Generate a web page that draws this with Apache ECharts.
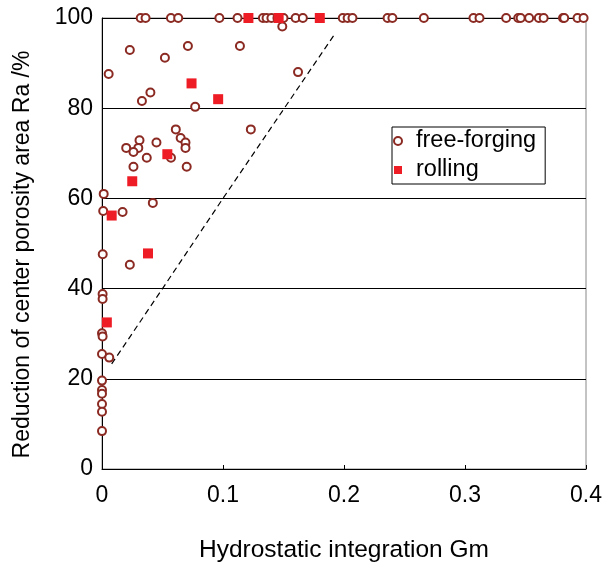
<!DOCTYPE html>
<html><head><meta charset="utf-8">
<script src="https://cdn.jsdelivr.net/npm/echarts@6/dist/echarts.min.js"></script>
<style>html,body{margin:0;padding:0;background:#fff}#c{width:603px;height:564px}</style>
</head><body><div id="c"></div>
<script>
const xTicks = [0, 0.1, 0.2, 0.3, 0.4];
const yTicks = [0, 20, 40, 60, 80, 100];
const freeForgingTop = [0.032,0.036,0.057,0.063,0.097,0.112,0.133,0.136,0.140,0.145,0.150,0.160,0.166,0.199,0.203,0.207,0.236,0.240,0.266,0.307,0.312,0.334,0.344,0.346,0.353,0.361,0.365,0.381,0.382,0.393,0.398];
const freeForgingOther = [[0.023,92.9],[0.071,93.8],[0.114,93.8],[0.052,91.2],[0.0055,87.6],[0.162,88.0],[0.149,98.1],[0.040,83.5],[0.033,81.6],[0.077,80.3],[0.123,75.3],[0.061,75.3],[0.065,73.4],[0.069,72.4],[0.069,71.2],[0.045,72.4],[0.031,72.9],[0.030,71.2],[0.020,71.2],[0.026,70.3],[0.057,69.0],[0.037,69.0],[0.026,67.0],[0.070,67.0],[0.0014,61.0],[0.042,59.0],[0.001,57.2],[0.017,57.0],[0.0006,47.6],[0.023,45.3],[0.0005,38.8],[0.0005,37.7],[0,30.1],[0.0005,29.4],[0,25.5],[0.006,24.7],[0,19.6],[0,17.5],[0,16.7],[0,14.4],[0,12.7],[0,8.4]];
const rolling = [[0.121,100],[0.146,100],[0.180,100],[0.074,85.5],[0.096,82.0],[0.054,69.8],[0.025,63.8],[0.008,56.2],[0.038,47.8],[0.004,32.5]];
const boundary = [[0.008,23.3],[0.05,40],[0.1,60],[0.193,96.7]];

const freeForging = freeForgingTop.map(x => [x, 100]).concat(freeForgingOther);
const FONT = 'Liberation Sans, Arial, sans-serif';
const chart = echarts.init(document.getElementById('c'), null, {renderer:'canvas'});
chart.setOption({
  animation:false,
  backgroundColor:'#fff',
  grid:{left:102, top:18, width:484, height:451, containLabel:false, outerBoundsMode:'none',
    show:true, borderColor:'#888', borderWidth:1, backgroundColor:'transparent'},
  xAxis:{type:'value', min:0, max:0.4, interval:0.1,
    name:'Hydrostatic integration Gm', nameLocation:'middle', nameGap:69,
    nameTextStyle:{fontFamily:FONT, fontSize:24.5, color:'#000'},
    axisLine:{show:true, onZero:false, lineStyle:{color:'#000', width:1}},
    axisTick:{show:true, inside:true, length:4, lineStyle:{color:'#000'}},
    axisLabel:{fontFamily:FONT, fontSize:23, color:'#000', margin:15,
      formatter:v => { const i = xTicks.findIndex(t => Math.abs(t - v) < 1e-9); return i >= 0 ? String(xTicks[i]) : ''; }},
    splitLine:{show:false}},
  yAxis:{type:'value', min:0, max:100, interval:20,
    name:'Reduction of center porosity area Ra /%', nameLocation:'middle', nameGap:68,
    nameTextStyle:{fontFamily:FONT, fontSize:23, color:'#000', padding:[0,22,0,0]},
    axisLine:{show:true, onZero:false, lineStyle:{color:'#000', width:1}},
    axisTick:{show:true, inside:true, length:5, lineStyle:{color:'#000'}},
    axisLabel:{fontFamily:FONT, fontSize:23, color:'#000', margin:9,
      formatter:v => { const i = yTicks.indexOf(v); return i >= 0 ? String(yTicks[i]) : ''; }},
    splitLine:{show:true, lineStyle:{color:'#000', width:1}}},
  legend:{left:392, top:127, orient:'vertical',
    backgroundColor:'#fff', borderColor:'#000', borderWidth:1,
    padding:[2, 9, 2, 1], itemWidth:8, itemHeight:8, itemGap:5,
    textStyle:{fontFamily:FONT, fontSize:23.5, color:'#000', padding:[0,0,0,9]},
    data:[{name:'free-forging', icon:'emptyCircle'}, {name:'rolling', icon:'rect'}]},
  series:[
    {name:'boundary', type:'line', data:boundary, symbol:'none', silent:true,
     lineStyle:{color:'#000', width:1.2, type:[6,4]}, z:1},
    {name:'free-forging', type:'scatter', data:freeForging, symbol:'emptyCircle', symbolSize:8,
     itemStyle:{color:'#8B2A22', borderColor:'#8B2A22', borderWidth:2, opacity:1}, z:3},
    {name:'rolling', type:'scatter', data:rolling, symbol:'rect', symbolSize:10,
     itemStyle:{color:'#EE1C25', opacity:1}, z:4}
  ]
});
</script></body></html>
